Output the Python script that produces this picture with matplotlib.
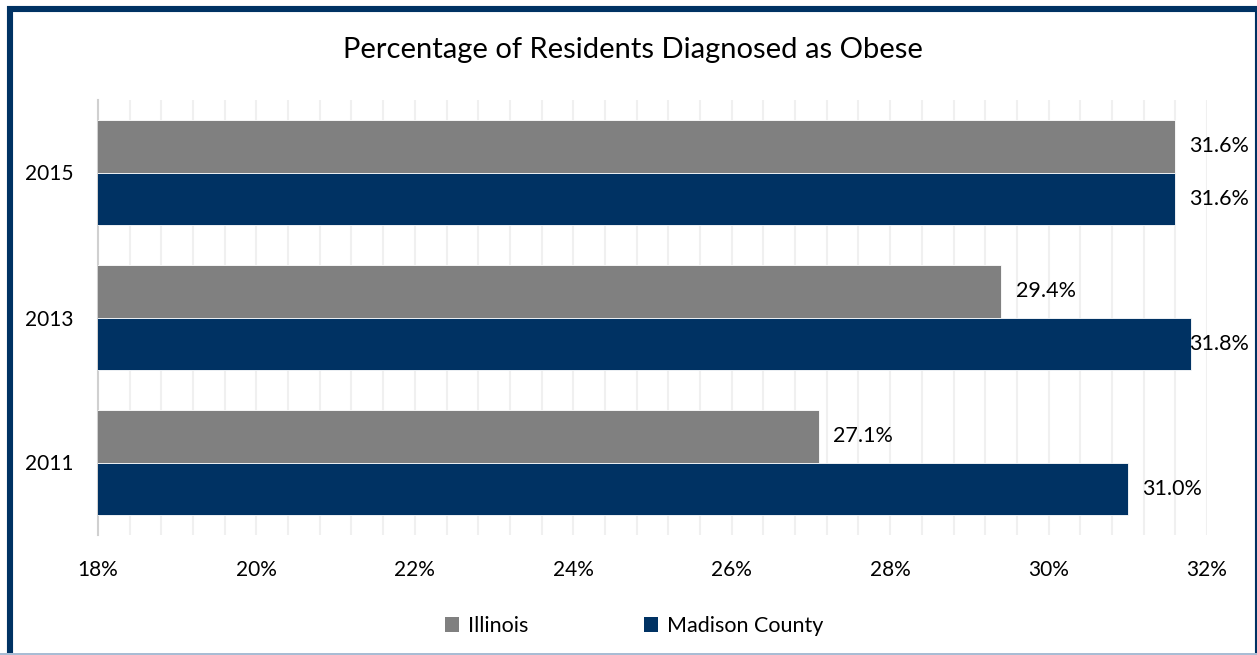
import matplotlib
matplotlib.use("Agg")
import matplotlib.pyplot as plt
from matplotlib.patches import Rectangle, Patch
from matplotlib.ticker import MultipleLocator, FuncFormatter
import numpy as np

plt.rcParams['font.family'] = ['Lato', 'DejaVu Sans']

years = ["2011", "2013", "2015"]
illinois = [27.1, 29.4, 31.6]
madison = [31.0, 31.8, 31.6]
series_names = ["Illinois", "Madison County"]
colors = ["#808080", "#003263"]
title = "Percentage of Residents Diagnosed as Obese"

W, H = 1257, 655
fig = plt.figure(figsize=(W / 100, H / 100), dpi=100)
ax = fig.add_axes([98 / W, 1 - 535 / H, (1207 - 98) / W, (535 - 100) / H])

y = np.arange(len(years))
h = 0.364
ax.barh(y + h / 2, illinois, height=h, color=colors[0], edgecolor="white", linewidth=0.6, zorder=3)
ax.barh(y - h / 2, madison, height=h, color=colors[1], edgecolor="white", linewidth=0.6, zorder=3)

ax.set_xlim(18, 32)
ax.set_ylim(-0.5, 2.5)
ax.xaxis.set_major_locator(MultipleLocator(2))
ax.xaxis.set_minor_locator(MultipleLocator(0.4))
ax.xaxis.set_major_formatter(FuncFormatter(lambda v, p: f"{v:.0f}%"))
ax.grid(axis="x", which="both", color="#f0f0f0", linewidth=1.5, zorder=0)
ax.set_yticks(y)
ax.set_yticklabels(years)
ax.tick_params(axis="both", which="both", length=0, labelsize=15, colors="black")
ax.tick_params(axis="x", pad=18)
ax.tick_params(axis="y", pad=18)
for s in ["top", "right", "bottom"]:
    ax.spines[s].set_visible(False)
ax.spines["left"].set_color("#d0d0d0")
ax.spines["left"].set_linewidth(1.5)

fig.canvas.draw()
renderer = fig.canvas.get_renderer()
limit_px = 1249
for vals, offs in [(illinois, h / 2), (madison, -h / 2)]:
    for yi, v in zip(y, vals):
        t = ax.annotate(f"{v:.1f}%", (v, yi + offs), xytext=(10.5, 0), textcoords="offset points",
                        ha="left", va="center", fontsize=15.5, zorder=4, annotation_clip=False)
        bb = t.get_window_extent(renderer)
        if bb.x1 > limit_px:
            t.remove()
            xd = ax.transData.inverted().transform((limit_px, 0))[0]
            ax.text(xd, yi + offs, f"{v:.1f}%", ha="right", va="center", fontsize=15.5, zorder=4)

fig.text(633 / W, 1 - 50 / H, title, ha="center", va="center", fontsize=21)

handles = [Patch(facecolor=c, edgecolor="none") for c in colors]
fig.legend(handles, series_names, loc="center", bbox_to_anchor=(634 / W, 1 - 626 / H), ncol=2,
           frameon=False, fontsize=15.5, handlelength=0.65, handleheight=0.65, handletextpad=0.4,
           columnspacing=5.4)

# outer border (bottom edge falls outside the image)
fig.patches.append(Rectangle((10 / W, -20 / H), (1258 - 10) / W, (646 + 20) / H, transform=fig.transFigure,
                             fill=False, edgecolor="#003263", linewidth=4.4, zorder=10))
fig.patches.append(Rectangle((0, 0), 1, 2 / H, transform=fig.transFigure, facecolor="#a8bcd4",
                             edgecolor="none", zorder=11))

fig.savefig("out.png", dpi=100)
